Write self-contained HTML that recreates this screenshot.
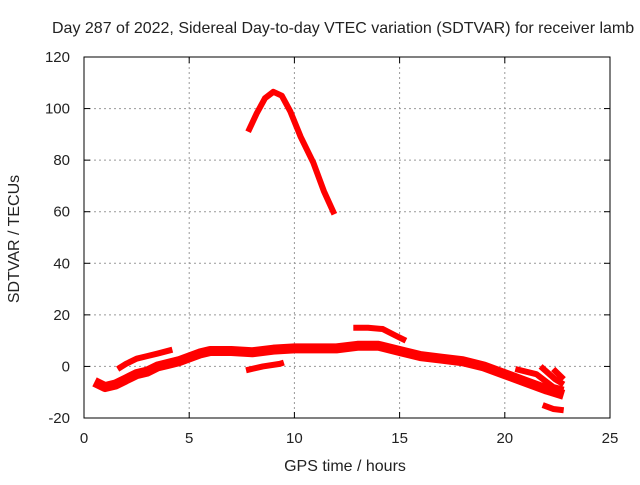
<!DOCTYPE html>
<html><head><meta charset="utf-8"><style>
body{margin:0;background:#fff}
svg text{font-family:"Liberation Sans",sans-serif;font-size:15px;fill:#222}
svg text.big{font-size:16px}
</style></head><body>
<svg id="c" width="640" height="480">
<text class="big" x="52" y="33">Day 287 of 2022, Sidereal Day-to-day VTEC variation (SDTVAR) for receiver lamb</text>
<g id="grid"></g><g id="ticks"></g><g id="series"></g>
<rect x="84" y="57" width="526" height="361" fill="none" stroke="#000" stroke-width="1"/>
<text class="big" x="345" y="471" text-anchor="middle">GPS time / hours</text>
<text class="big" transform="translate(19,239) rotate(-90)" text-anchor="middle">SDTVAR / TECUs</text>
</svg>
<script>
const xTicks=[0,5,10,15,20,25];
const yTicks=[-20,0,20,40,60,80,100,120];
const arcSeries=[[7.8,91],[8.2,98],[8.6,104],[9.0,106.5],[9.4,105],[9.8,99],[10.3,89],[10.9,79],[11.4,68],[11.9,59]];
const mainSeries=[[0.5,-6],[1.0,-8],[1.5,-7],[2.0,-5],[2.5,-3],[3.0,-2],[3.5,0],[4.0,1],[4.5,2],[5.0,3.5],[5.5,5],[6,6],[7,6],[8,5.5],[9,6.5],[10,7],[11,7],[12,7],[13,8],[14,8],[15,6],[16,4],[17,3],[18,2],[19,0],[20,-3],[21,-6],[22,-9],[22.8,-11]];
const earlySeries=[[1.6,-1],[2,1],[2.5,3],[3,4],[3.5,5],[4.2,6.5]];
const gapSeries=[[7.7,-1.5],[8.5,0],[9.3,1],[9.5,1.5]];
const humpSeries=[[12.8,15],[13.5,15],[14.2,14.5],[14.8,12],[15.3,10]];
const branch1=[[20.5,-1],[21.5,-3],[22.3,-8],[22.8,-9]];
const branch2=[[21.7,0],[22.4,-5],[22.8,-7]];
const branch3=[[22.3,-1],[22.8,-5]];
const bottomSeries=[[21.8,-15],[22.3,-16.5],[22.8,-17]];
const X=h=>84+h*526/25, Y=v=>418-(v+20)*361/140;
const NS="http://www.w3.org/2000/svg";
const g=document.getElementById('grid'),t=document.getElementById('ticks'),s=document.getElementById('series');
function mk(tag,attrs,parent){const e=document.createElementNS(NS,tag);for(const k in attrs)e.setAttribute(k,attrs[k]);parent.appendChild(e);return e;}
xTicks.forEach(v=>{
 if(v>0&&v<25){const l=mk('line',{x1:X(v),x2:X(v),y1:57,y2:418,stroke:'#999','stroke-dasharray':'2,3'},g);
 
 }
 mk('line',{x1:X(v),x2:X(v),y1:418,y2:412,stroke:'#000'},t);
 mk('line',{x1:X(v),x2:X(v),y1:57,y2:63,stroke:'#000'},t);
 const tx=mk('text',{x:X(v),y:443,'text-anchor':'middle'},t);tx.textContent=v;
 
 
});
yTicks.forEach(v=>{
 if(v>-20&&v<120){const l=mk('line',{x1:84,x2:610,y1:Y(v),y2:Y(v),stroke:'#999','stroke-dasharray':'2,3'},g);
 
 }
 mk('line',{x1:84,x2:90,y1:Y(v),y2:Y(v),stroke:'#000'},t);
 mk('line',{x1:604,x2:610,y1:Y(v),y2:Y(v),stroke:'#000'},t);
 const tx=mk('text',{x:70,y:Y(v)+5,'text-anchor':'end'},t);tx.textContent=v;
 
 
});
[arcSeries,mainSeries,earlySeries,gapSeries,humpSeries,branch1,branch2,branch3,bottomSeries].forEach((d,i)=>{
 const p=mk('polyline',{points:d.map(q=>X(q[0])+','+Y(q[1])).join(' '),fill:'none',stroke:'#f00','stroke-width':(i==1?10:6),'stroke-linejoin':'round'},s);
 
 
});
</script>
</body></html>
